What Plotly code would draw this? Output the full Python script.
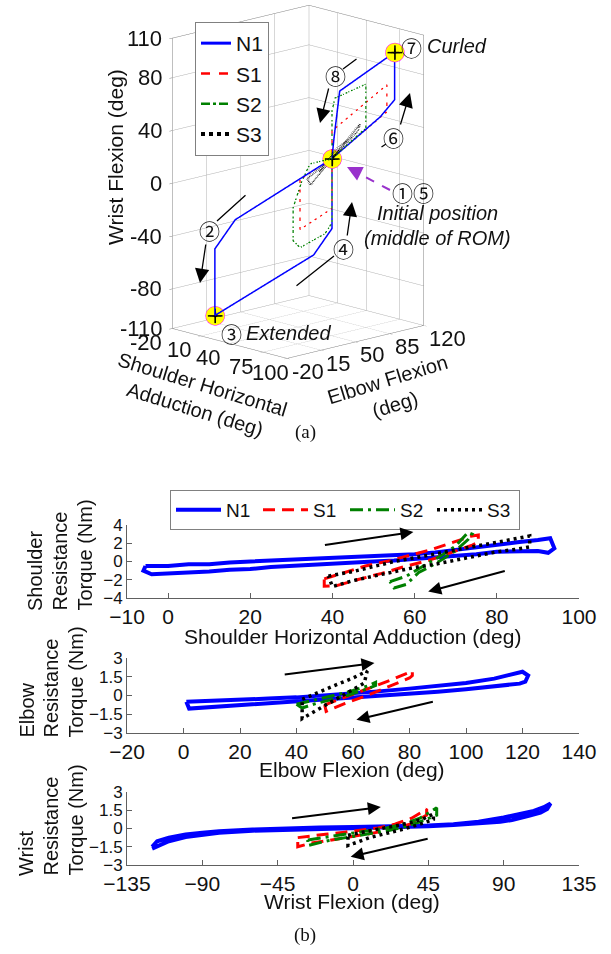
import plotly.graph_objects as go

W, H = 611, 954

# ---------------- (a) 3D joint trajectories (shoulder, elbow, wrist) ----------------
n1_sh = [50, 5, -5, -5, 38, 50, 50, 78, 88, 88, 55, 51, 50]
n1_el = [75, 20, 9, 9, 68, 75, 75, 97, 102, 102, 78, 76, 75]
n1_wr = [15, -30, -52, -102.5, -59, -38, 15, 48, 62, 98, 66.6, 30, 15]

s1_sh = [50, 35, 35, 50, 50, 78.4, 78.4, 50, 50]
s1_el = [75, 57, 57, 75, 75, 103.4, 103.4, 75, 75]
s1_wr = [15, -0.5, -38.3, -22.8, 15, 50.8, 71.2, 36, 15]

s2_sh = [50, 39.7, 35.9, 31.7, 31.7, 35, 46.7, 50, 50, 70.5, 70.5, 51.8, 50, 50]
s2_el = [75, 62.6, 58.1, 53.1, 53.1, 57, 71.1, 75, 75, 89.7, 89.7, 76.3, 75, 75]
s2_wr = [15, 11.3, -1.4, -21.8, -46.7, -52.1, -41.8, -33.6, 15, 39.5, 72.7, 61, 51, 15]

s3_sh = [50, 66.9, 65.7, 50, 38.3, 40.3, 50, 60, 52, 44, 50]
s3_el = [75, 87.1, 86.2, 75, 60.9, 62.6, 75, 82, 77, 68, 75]
s3_wr = [15, 42.3, 37, 15, 0, -4.5, 15, 30, 22, 5, 15]

key_sh = [-5, 50, 88]
key_el = [9, 75, 102]
key_wr = [-102.5, 15, 98]

sh3_ticks = [-20, 10, 40, 75, 100]
el3_ticks = [-20, 15, 50, 85, 120]
wr3_ticks = [-110, -80, -40, 0, 40, 80, 110]

# ---------------- (b) resistance torque vs joint angle ----------------
sh_n1_x = [-5.5, 0, 5, 10, 15, 20, 25, 30, 35, 40, 45, 50, 55, 60, 65, 70, 75, 80, 85, 90, 93, 94, 92.5,
           90, 85, 80, 75, 70, 65, 60, 55, 50, 45, 40, 35, 30, 25, 20, 15, 10, 5, 0, -4, -6, -5.5]
sh_n1_y = [-0.5, -0.5, -0.3, -0.3, -0.1, 0.0, 0.05, 0.15, 0.2, 0.34, 0.4, 0.55, 0.6, 0.8, 1.0, 1.3, 1.5, 1.87, 2.1, 2.35, 2.55, 1.45, 0.95,
           1.15, 1.1, 1.06, 0.8, 0.6, 0.4, 0.23, 0.1, 0.0, -0.1, -0.26, -0.35, -0.47, -0.6, -0.83, -0.9, -1.1, -1.2, -1.4, -1.4, -1.0, -0.5]

sh_s1_x = [38, 43, 48, 54, 59, 64, 70, 74, 75.5, 75.5, 74, 69, 64, 58, 52, 46, 41, 38, 38]
sh_s1_y = [-1.9, -1.2, -0.5, 0.1, 0.7, 1.3, 2.2, 2.8, 2.9, 2.1, 1.8, 1.0, 0.2, -0.5, -1.3, -2.0, -2.65, -2.7, -1.9]

sh_s2_x = [54, 56, 58, 61, 64, 67, 70, 73, 74, 73, 70, 67, 64, 61, 58, 55, 54]
sh_s2_y = [-2.2, -1.9, -1.6, -0.8, 0.0, 0.8, 1.7, 3.2, 3.0, 2.4, 1.2, 0.3, -0.5, -1.2, -2.5, -2.9, -2.2]

sh_s3_x = [39, 45, 50, 55, 60, 65, 70, 75, 80, 85, 88, 88, 85, 80, 75, 70, 65, 60, 55, 50, 45, 40, 39]
sh_s3_y = [-1.6, -1.1, -0.55, 0.0, 0.4, 0.85, 1.3, 1.7, 2.1, 2.5, 2.8, 1.6, 1.35, 1.06, 0.6, 0.15, -0.3, -0.65, -1.1, -1.6, -2.1, -2.75, -1.6]

el_n1_x = [1, 10, 20, 30, 40, 50, 60, 70, 80, 90, 100, 110, 116, 120, 122, 121, 119,
           110, 100, 90, 80, 70, 60, 50, 40, 30, 20, 10, 2, 1]
el_n1_y = [-0.5, -0.4, -0.3, -0.25, -0.15, 0.0, 0.15, 0.35, 0.55, 0.75, 1.0, 1.35, 1.65, 1.9, 1.6, 1.1, 0.95,
           0.7, 0.5, 0.3, 0.15, 0.0, -0.2, -0.35, -0.5, -0.65, -0.75, -0.9, -1.05, -0.5]

el_s1_x = [50, 57, 65, 73, 81, 81, 80, 73, 65, 57, 50.5, 50]
el_s1_y = [-0.75, -0.15, 0.5, 1.2, 1.95, 1.6, 1.4, 0.75, 0.0, -0.65, -1.27, -0.75]

el_s2_x = [40, 45, 50, 55, 60, 65, 68, 68, 64, 58, 52, 46, 42, 40]
el_s2_y = [-0.7, -0.45, -0.2, 0.1, 0.4, 0.75, 1.05, 0.8, 0.45, 0.0, -0.35, -0.7, -1.0, -0.7]

el_s3_x = [42, 48, 54, 60, 65, 64, 62, 57, 52, 47, 42, 42]
el_s3_y = [-0.3, 0.3, 0.85, 1.4, 1.95, 1.0, 0.75, 0.1, -0.55, -1.2, -1.85, -0.3]

wr_n1_x = [-120, -117, -110, -100, -90, -80, -60, -45, -20, 0, 20, 45, 60, 75, 90, 100, 108, 114, 117, 118,
           116, 112, 105, 95, 88, 75, 60, 45, 20, 0, -20, -45, -60, -80, -90, -100, -110, -115, -120]
wr_n1_y = [-1.5, -1.05, -0.75, -0.5, -0.35, -0.22, -0.08, 0.0, 0.08, 0.13, 0.17, 0.25, 0.35, 0.55, 0.9, 1.2, 1.45, 1.75, 1.95, 2.05,
           1.6, 1.3, 1.05, 0.7, 0.55, 0.4, 0.28, 0.18, 0.08, 0.02, -0.03, -0.1, -0.18, -0.35, -0.5, -0.7, -1.05, -1.35, -1.65]

wr_s1_x = [-33, -25, -15, -5, 5, 15, 25, 35, 44, 44, 35, 25, 15, 5, -5, -15, -25, -33, -33]
wr_s1_y = [-0.75, -0.6, -0.45, -0.3, -0.15, 0.05, 0.35, 0.85, 1.6, 1.1, 0.4, 0.0, -0.3, -0.55, -0.8, -1.0, -1.2, -1.5, -0.75]

wr_s2_x = [-27, -15, 0, 10, 20, 30, 40, 50, 50, 40, 30, 20, 10, 0, -15, -27, -27]
wr_s2_y = [-0.95, -0.7, -0.4, -0.2, 0.05, 0.35, 0.85, 1.7, 1.1, 0.55, 0.1, -0.2, -0.45, -0.65, -1.0, -1.4, -0.95]

wr_s3_x = [-3, 5, 15, 25, 35, 42, 48, 48, 40, 30, 20, 10, 0, -3, -3]
wr_s3_y = [-0.55, -0.3, -0.05, 0.2, 0.5, 0.8, 1.2, 0.75, 0.35, -0.05, -0.4, -0.75, -1.25, -1.4, -0.55]

names = ["N1", "S1", "S2", "S3"]
colors = ["#0000ff", "#ff0000", "#008000", "#000000"]
dash3d = ["solid", "dash", "dashdot", "dot"]
width3d = [3, 2.5, 2.5, 4]
dash2d = ["solid", "12px,7px", "13px,5px,3px,5px", "3px,4px"]
width2d = [4, 3, 3, 3.5]

FONT = "Liberation Sans, Arial, sans-serif"

def px(x):
    return x / W

def py(y):
    return 1 - y / H

fig = go.Figure()

# 3D traces
series3d = [(n1_sh, n1_el, n1_wr), (s1_sh, s1_el, s1_wr), (s2_sh, s2_el, s2_wr), (s3_sh, s3_el, s3_wr)]
for i, (a, b, c) in enumerate(series3d):
    fig.add_trace(go.Scatter3d(
        x=a, y=b, z=c, mode="lines", name=names[i],
        line=dict(color=colors[i], width=width3d[i], dash=dash3d[i]),
        legend="legend", showlegend=True, hoverinfo="skip"))

fig.add_trace(go.Scatter3d(x=key_sh, y=key_el, z=key_wr, mode="markers", showlegend=False,
                           marker=dict(size=11, color="#ffff00", line=dict(color="#ff00ff", width=2)),
                           hoverinfo="skip"))
fig.add_trace(go.Scatter3d(x=key_sh, y=key_el, z=key_wr, mode="markers", showlegend=False,
                           marker=dict(size=8, color="#000000", symbol="cross"),
                           hoverinfo="skip"))

# 2D traces
panels = [
    [(sh_n1_x, sh_n1_y), (sh_s1_x, sh_s1_y), (sh_s2_x, sh_s2_y), (sh_s3_x, sh_s3_y)],
    [(el_n1_x, el_n1_y), (el_s1_x, el_s1_y), (el_s2_x, el_s2_y), (el_s3_x, el_s3_y)],
    [(wr_n1_x, wr_n1_y), (wr_s1_x, wr_s1_y), (wr_s2_x, wr_s2_y), (wr_s3_x, wr_s3_y)],
]
for p, series in enumerate(panels):
    xa = "x" if p == 0 else "x%d" % (p + 1)
    ya = "y" if p == 0 else "y%d" % (p + 1)
    for i, (xs, ys) in enumerate(series):
        fig.add_trace(go.Scatter(
            x=xs, y=ys, mode="lines", name=names[i], xaxis=xa, yaxis=ya,
            line=dict(color=colors[i], width=width2d[i], dash=dash2d[i]),
            legend="legend2", showlegend=(p == 0), hoverinfo="skip"))

axis3d = dict(showbackground=False, gridcolor="#b0b0b0", gridwidth=1, zeroline=False,
              showline=True, linecolor="#808080", linewidth=1, mirror=True,
              showspikes=False, ticks="outside", ticklen=4, tickcolor="#808080",
              showticklabels=False, title=dict(text=""))

# tick labels of the 3D axes, placed on the front edges of the box
sh_lo, el_lo, wr_lo = sh3_ticks[0], el3_ticks[0], wr3_ticks[0]
tickfont3 = dict(family=FONT, size=22, color="#111")
scene_anns = []
for v in sh3_ticks:
    scene_anns.append(dict(x=v, y=el_lo, z=wr_lo, text=str(v), showarrow=False, xanchor="right",
                           yanchor="middle", xshift=-8 if v < 100 else 4, yshift=-14, font=tickfont3))
for v in el3_ticks:
    scene_anns.append(dict(x=sh3_ticks[-1], y=v, z=wr_lo, text=str(v), showarrow=False, xanchor="left",
                           yanchor="middle", xshift=3, yshift=-13, font=tickfont3))
for v in wr3_ticks:
    scene_anns.append(dict(x=sh_lo, y=el_lo, z=v, text=str(v), showarrow=False, xanchor="right",
                           yanchor="middle", xshift=-8, yshift=0, font=tickfont3))

SC = 0.828
EYE = 2.55
CZ = -0.094
scene = dict(
    domain=dict(x=[px(98), px(498)], y=[py(400), py(0)]),
    xaxis=dict(axis3d, range=[-20, 100], tickvals=sh3_ticks),
    yaxis=dict(axis3d, range=[-20, 120], tickvals=el3_ticks),
    zaxis=dict(axis3d, range=[-110, 110], tickvals=wr3_ticks),
    aspectmode="manual", aspectratio=dict(x=1 * SC, y=1.145 * SC, z=1.811 * SC),
    camera=dict(eye=dict(x=0.698 * EYE, y=-0.671 * EYE, z=0.2507 * EYE + CZ),
                center=dict(x=0, y=0, z=CZ), up=dict(x=0, y=0, z=1),
                projection=dict(type="orthographic")),
    bgcolor="white",
    annotations=scene_anns,
)

ax2d = dict(showgrid=False, zeroline=False, showline=True, linecolor="#606060", linewidth=1,
            ticks="inside", ticklen=5, tickcolor="#606060", mirror=False,
            tickfont=dict(family=FONT, size=21, color="#111"))
ay2d = dict(ax2d, tickfont=dict(family=FONT, size=17, color="#111"))

xd = [px(127), px(579)]
fig.update_layout(
    width=W, height=H, margin=dict(l=0, r=0, t=0, b=0, autoexpand=False),
    paper_bgcolor="white", plot_bgcolor="white",
    font=dict(family=FONT, color="#111"),
    scene=scene,
    xaxis=dict(ax2d, domain=xd, range=[-10, 100], tickvals=[-10, 0, 20, 40, 60, 80, 100], anchor="y"),
    yaxis=dict(ay2d, domain=[py(598), py(525)], range=[-4, 4], tickvals=[-4, -2, 0, 2, 4], anchor="x"),
    xaxis2=dict(ax2d, domain=xd, range=[-20, 140], tickvals=[-20, 0, 20, 40, 60, 80, 100, 120, 140], anchor="y2"),
    yaxis2=dict(ay2d, domain=[py(733), py(658)], range=[-3, 3], tickvals=[-3, -1.5, 0, 1.5, 3], anchor="x2"),
    xaxis3=dict(ax2d, domain=xd, range=[-135, 135], tickvals=[-135, -90, -45, 0, 45, 90, 135], anchor="y3"),
    yaxis3=dict(ay2d, domain=[py(865), py(792)], range=[-3, 3], tickvals=[-3, -1.5, 0, 1.5, 3], anchor="x3"),
    legend=dict(x=px(195), y=py(22), xanchor="left", yanchor="top", bgcolor="white",
                bordercolor="#808080", borderwidth=1, font=dict(family=FONT, size=21, color="#111"),
                itemwidth=30, orientation="v"),
    legend2=dict(x=px(170), y=py(490), xanchor="left", yanchor="top", bgcolor="white",
                 bordercolor="#808080", borderwidth=1, font=dict(family=FONT, size=19, color="#111"),
                 itemwidth=45, orientation="h", entrywidth=27, entrywidthmode="pixels"),
    showlegend=True,
)

anns = []

def txt(text, x, y, size=20, angle=0, xanchor="center", yanchor="middle", family=FONT, **kw):
    anns.append(dict(text=text, x=px(x), y=py(y), xref="paper", yref="paper", showarrow=False,
                     xanchor=xanchor, yanchor=yanchor, textangle=angle,
                     font=dict(family=family, size=size, color="#111"), **kw))

def arrow(hx, hy, tx, ty, head=2, size=1.0, width=1.5, color="#000"):
    anns.append(dict(text="", x=px(hx), y=py(hy), xref="paper", yref="paper", showarrow=True,
                     ax=tx - hx, ay=ty - hy, arrowhead=head, arrowsize=size, arrowwidth=width,
                     arrowcolor=color))

CJK = "Noto Sans CJK SC"
# (a) axis titles
txt("Wrist Flexion (deg)", 115, 157, size=21, angle=-90)
txt("Shoulder Horizontal<br>Adduction (deg)", 199, 397, size=20, angle=17)
txt("Elbow Flexion<br>(deg)", 391, 392, size=20, angle=-17)
# (a) callouts
txt("⑦", 411, 47, size=21, family=CJK)
txt("<i>Curled</i>", 425, 46, size=20, xanchor="left")
txt("⑧", 335, 75, size=21, family=CJK)
txt("⑥", 393, 137, size=21, family=CJK)
txt("①⑤", 413, 192, size=21, family=CJK)
txt("<i>Initial position</i>", 437, 213, size=20)
txt("<i>(middle of ROM)</i>", 437, 238, size=20)
txt("④", 343, 248, size=21, family=CJK)
txt("②", 209, 230, size=21, family=CJK)
txt("③", 231, 333, size=21, family=CJK)
txt("<i>Extended</i>", 244, 333, size=20, xanchor="left")
arrow(200, 283, 206, 243, head=2, size=2.2, width=1.3)
arrow(352, 202, 347, 237, head=2, size=2.2, width=1.3)
arrow(410, 93, 400, 126, head=2, size=2.2, width=1.3)
arrow(320, 123, 329, 87, head=2, size=2.2, width=1.3)
arrow(217, 221, 247, 194, head=0, width=1.3)
arrow(334, 256, 295, 287, head=0, width=1.3)
arrow(343, 69, 358, 58, head=0, width=1.3)
arrow(386, 144, 380, 148, head=0, width=1.3)
arrow(347, 167, 355, 171, head=2, size=2.0, width=1.5, color="#9932cc")

# (b) y titles
for (cx, by, t) in [(35, 613, "Shoulder"), (59, 613, "Resistance"), (84, 613, "Torque (Nm)"),
                    (26, 740, "Elbow"), (50, 740, "Resistance"), (75, 740, "Torque (Nm)"),
                    (26, 878, "Wrist"), (50, 878, "Resistance"), (75, 878, "Torque (Nm)")]:
    txt(t, cx, by, size=20, angle=-90, yanchor="bottom")
# (b) x titles
txt("Shoulder Horizontal Adduction (deg)", 352, 636, size=21)
txt("Elbow Flexion (deg)", 352, 769, size=21)
txt("Wrist Flexion (deg)", 352, 901, size=21)
# panel labels
txt("(a)", 305, 432, size=19, family="Liberation Serif, Times New Roman, serif")
txt("(b)", 305, 935, size=19, family="Liberation Serif, Times New Roman, serif")

# (b) direction arrows (data coordinates)
for (xr, yr, hx, hy, tx, ty) in [("x", "y", 59.7, 3.24, 37.8, 1.79), ("x", "y", 63.3, -3.3, 82.3, -1.0),
                                  ("x2", "y2", 67.6, 2.6, 35.3, 1.66), ("x2", "y2", 61.2, -1.94, 88.8, -0.47),
                                  ("x3", "y3", 16.6, 1.77, -37.3, 0.82), ("x3", "y3", -1.4, -2.33, 45.5, -0.82)]:
    anns.append(dict(text="", x=hx, y=hy, xref=xr, yref=yr, axref=xr, ayref=yr, ax=tx, ay=ty,
                     showarrow=True, arrowhead=2, arrowsize=1.3, arrowwidth=2, arrowcolor="#000"))

fig.update_layout(annotations=anns,
                  shapes=[dict(type="line", xref="paper", yref="paper", x0=px(390), y0=py(190),
                               x1=px(352), y1=py(170), line=dict(color="#9932cc", width=2, dash="dash"))])

fig.write_html("out.html", include_plotlyjs=True, config=dict(displayModeBar=False))
